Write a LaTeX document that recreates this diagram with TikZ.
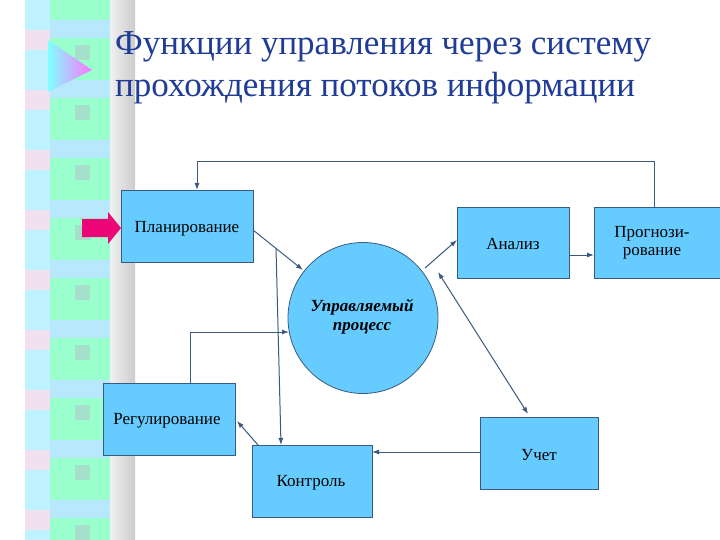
\documentclass[tikz,border=0pt]{standalone}
\usepackage{fontspec}
\setmainfont{Liberation Serif}
\usetikzlibrary{arrows.meta,shapes.geometric}
\definecolor{boxf}{HTML}{66CCFF}
\definecolor{edge}{HTML}{3A5A80}
\definecolor{ttl}{HTML}{1F3C96}
\begin{document}
\begin{tikzpicture}[x=1pt,y=-1pt,
  box/.style={draw=edge,fill=boxf,line width=0.8pt,inner sep=0pt},
  lbl/.style={font=\rmfamily\fontsize{17}{18}\selectfont,align=center},
  con/.style={draw=edge,line width=1pt,-{Latex[length=7pt,width=5pt]}}]
\useasboundingbox (0,0) rectangle (720,540);
\fill[white] (0,0) rectangle (720,540);
% decorative strip
\shade[left color=white,right color=gray!40] (100,0) rectangle (135,540);
\fill[blue!20!cyan!25] (25,0) rectangle (50,540);
\fill[green!50!cyan!40] (50,0) rectangle (110,540);
\foreach \y in {0,60,...,540}{
  \fill[cyan!28] (50,\y+20) rectangle (110,\y+38);
  \fill[violet!12] (25,\y+30) rectangle (50,\y+50);
  \fill[cyan!40!green!35] (75,\y+45) rectangle (90,\y+60);
}
\shade[left color=cyan!50,right color=magenta!55] (48,40) -- (92,70) -- (48,92) -- cycle;
% title
\node[anchor=base west,text=ttl,font=\rmfamily\fontsize{35}{38}\selectfont,inner sep=0pt] (t1) at (115,55) {Функции управления через систему};
\node[anchor=base west,text=ttl,font=\rmfamily\fontsize{35}{38}\selectfont,inner sep=0pt] (t2) at (115,97) {прохождения потоков информации};
% nodes
\node[box,minimum width=132,minimum height=72,anchor=north west] (plan) at (121,190) {};
\node[lbl] (planl) at (187,229) {Планирование};
\node[box,minimum width=112,minimum height=71,anchor=north west] (an) at (457,207) {};
\node[lbl] (anl) at (513,244) {Анализ};
\node[box,minimum width=126,minimum height=71,anchor=north west] (pr) at (594,207) {};
\node[lbl] (prl) at (652,243) {Прогнози-\\рование};
\node[box,ellipse,minimum width=150,minimum height=151] (proc) at (363,318) {};
\node[lbl,font=\rmfamily\fontsize{17}{19}\selectfont\bfseries\itshape] (procl) at (362,317) {Управляемый\\процесс};
\node[box,minimum width=132,minimum height=72,anchor=north west] (reg) at (103,383) {};
\node[lbl] (regl) at (167,421) {Регулирование};
\node[box,minimum width=120,minimum height=72,anchor=north west] (ko) at (252,445) {};
\node[lbl] (kol) at (311,483) {Контроль};
\node[box,minimum width=118,minimum height=72,anchor=north west] (uc) at (480,417) {};
\node[lbl] (ucl) at (539,455) {Учет};
% pink arrow
\fill[magenta!80!red] (82,219) -- (108,219) -- (108,212) -- (121,228) -- (108,244) -- (108,237) -- (82,237) -- cycle;
% connectors
\coordinate (c1) at (276,248);
\coordinate (c2) at (438,272);
\draw[con] (654,207) -- (654,162) -- (197,162) -- (197,190);
\draw[con] (253,230) -- (303,270);
\draw[con] (c1) -- (281,445);
\draw[con] (190,383) -- (190,332) -- (289,332);
\draw[con] (258,445) -- (237,421);
\draw[con] (480,452) -- (372,452);
\draw[con] (425,268) -- (457,240);
\draw[con,{Latex[length=7pt,width=5pt]}-{Latex[length=7pt,width=5pt]}] (c2) -- (528,414);
\draw[con] (569,255) -- (594,255);
\end{tikzpicture}
\end{document}
